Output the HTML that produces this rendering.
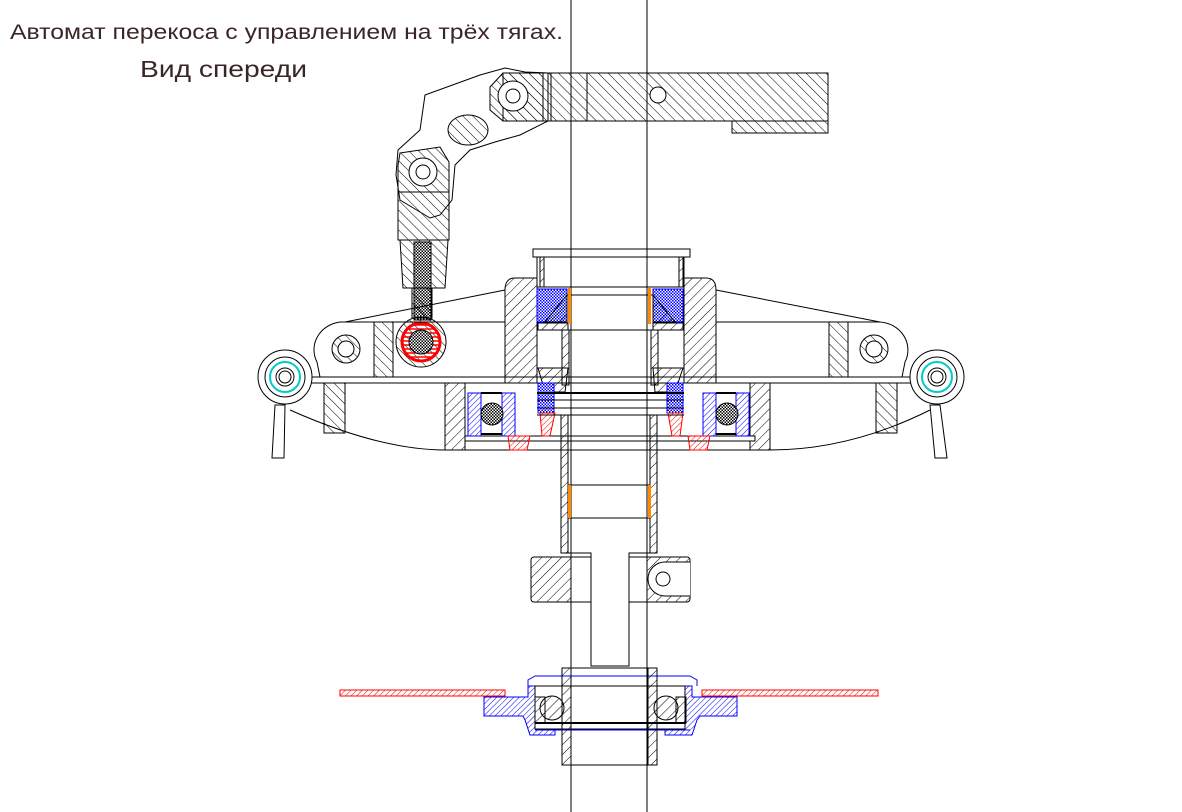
<!DOCTYPE html>
<html><head><meta charset="utf-8"><style>
html,body{margin:0;padding:0;background:#fff;}
svg{display:block}
text{font-family:"Liberation Sans",sans-serif;fill:#3a2626}
</style></head><body>
<svg width="1182" height="812" viewBox="0 0 1182 812" xmlns="http://www.w3.org/2000/svg">
<defs>
<pattern id="h" width="7" height="7" patternUnits="userSpaceOnUse" patternTransform="rotate(45)"><line x1="0" y1="0" x2="0" y2="7" stroke="#000" stroke-width="1"/></pattern>
<pattern id="h2" width="7" height="7" patternUnits="userSpaceOnUse" patternTransform="rotate(-45)"><line x1="0" y1="0" x2="0" y2="7" stroke="#000" stroke-width="1"/></pattern>
<pattern id="hb" width="4" height="4" patternUnits="userSpaceOnUse" patternTransform="rotate(45)"><line x1="0" y1="0" x2="0" y2="4" stroke="#00f" stroke-width="1"/></pattern>
<pattern id="hr" width="4" height="4" patternUnits="userSpaceOnUse" patternTransform="rotate(45)"><line x1="0" y1="0" x2="0" y2="4" stroke="#f00" stroke-width="1"/></pattern>
<pattern id="xb" width="3" height="3" patternUnits="userSpaceOnUse"><rect width="3" height="3" fill="#fff"/><rect width="1.5" height="1.5" fill="#00f"/><rect x="1.5" y="1.5" width="1.5" height="1.5" fill="#00f"/></pattern>
<pattern id="xk" width="3" height="3" patternUnits="userSpaceOnUse"><rect width="3" height="3" fill="#fff"/><rect width="1.5" height="1.5" fill="#000"/><rect x="1.5" y="1.5" width="1.5" height="1.5" fill="#000"/></pattern>
<pattern id="hrh" width="4" height="4" patternUnits="userSpaceOnUse"><line x1="0" y1="1" x2="4" y2="1" stroke="#f00" stroke-width="1.5"/></pattern>
</defs>
<text x="10" y="39" font-size="21" textLength="553" lengthAdjust="spacingAndGlyphs">Автомат перекоса с управлением на трёх тягах.</text>
<text x="140" y="77" font-size="23" textLength="167" lengthAdjust="spacingAndGlyphs">Вид спереди</text>

<g fill="none" stroke="#000" stroke-width="1">
<path d="M398,150 L420,130 L425,95 L480,75 L505,68 L525,72 L548,73 L548,121 L520,135 L495,142 L470,150 L455,165 L452,200 L440,215 L430,218 L400,200 L396,175 Z" fill="#fff"/>
<rect x="503" y="73" width="325" height="48" fill="url(#h2)"/>
<rect x="732" y="121" width="96" height="12" fill="url(#h2)"/>
<line x1="551" y1="73" x2="551" y2="121"/><line x1="587" y1="73" x2="587" y2="121"/>
<polygon points="490,87 503,73 543,73 543,121 503,121 490,110" fill="url(#h2)"/>
<circle cx="513" cy="96" r="15" fill="#fff"/><circle cx="513" cy="96" r="7"/>
<circle cx="658" cy="95" r="8" fill="#fff"/>
<ellipse cx="468" cy="130" rx="20" ry="15" fill="url(#h2)"/>
<polygon points="400,153 440,147 449,162 449,240 398,240 398,165" fill="url(#h2)"/>
<circle cx="423" cy="172" r="14" fill="#fff"/><circle cx="423" cy="172" r="7"/>
<line x1="398" y1="192" x2="449" y2="192"/>
<polygon points="400,240 448,240 445,288 403,288" fill="url(#h2)"/>
<rect x="414" y="242" width="17" height="78" fill="url(#xk)"/>
<rect x="412" y="288" width="20" height="30" fill="url(#h2)"/>
<circle cx="421" cy="342" r="25" fill="url(#h2)"/>
<circle cx="421" cy="342" r="19" fill="url(#hrh)" stroke="#f00" stroke-width="3"/>
<ellipse cx="421" cy="342" rx="12" ry="12" fill="url(#xk)"/>
<path d="M505,290 L345,322 L340,322 A30,28 0 0 0 317,362 L320,377 L505,377" fill="none"/>
<line x1="340" y1="322" x2="505" y2="322"/>
<path d="M716,290 L880,322 A30,28 0 0 1 905,362 L902,377 L716,377" fill="none"/>
<line x1="716" y1="322" x2="880" y2="322"/>
<rect x="374" y="322" width="19" height="55" fill="url(#h2)"/>
<rect x="829" y="322" width="19" height="55" fill="url(#h2)"/>
<circle cx="346" cy="349" r="14" fill="url(#h2)"/><circle cx="346" cy="349" r="8" fill="#fff"/>
<circle cx="874" cy="349" r="14" fill="url(#h2)"/><circle cx="874" cy="349" r="8" fill="#fff"/>
<line x1="303" y1="383" x2="918" y2="383"/><line x1="303" y1="377" x2="918" y2="377"/>
<path d="M290,410 Q380,450 445,450 L770,450 Q850,450 930,410"/>
<rect x="324" y="383" width="21" height="50" fill="url(#h2)"/>
<rect x="876" y="383" width="21" height="50" fill="url(#h2)"/>
<rect x="445" y="383" width="20" height="67" fill="url(#h)"/>
<rect x="750" y="383" width="20" height="67" fill="url(#h)"/>
<line x1="465" y1="450" x2="750" y2="450"/>
<rect x="465" y="436" width="290" height="5" fill="#fff"/>
<rect x="468" y="393" width="13" height="43" fill="url(#hb)" stroke="#00f"/>
<rect x="502" y="393" width="13" height="43" fill="url(#hb)" stroke="#00f"/>
<rect x="736" y="393" width="13" height="43" fill="url(#hb)" stroke="#00f"/>
<rect x="703" y="393" width="13" height="43" fill="url(#hb)" stroke="#00f"/>
<circle cx="492" cy="414" r="11" fill="url(#xk)"/><circle cx="727" cy="414" r="11" fill="url(#xk)"/>
<line x1="481" y1="393" x2="502" y2="393" stroke-width="2"/><line x1="481" y1="434" x2="502" y2="434" stroke-width="2"/>
<line x1="716" y1="393" x2="736" y2="393" stroke-width="2"/><line x1="716" y1="434" x2="736" y2="434" stroke-width="2"/>
<polygon points="508,436 530,436 527,450 510,450" fill="url(#hr)" stroke="#f00"/>
<polygon points="688,436 710,436 707,450 690,450" fill="url(#hr)" stroke="#f00"/>
<path d="M505,290 Q505,278 515,278 L537,278 L537,383 L505,383 Z" fill="url(#h)"/>
<path d="M716,290 Q716,278 706,278 L684,278 L684,383 L716,383 Z" fill="url(#h)"/>
<rect x="537" y="257" width="147" height="30" fill="#fff"/>
<rect x="533" y="249" width="157" height="8" fill="#fff"/>
<rect x="540" y="257" width="4" height="30" fill="url(#h)"/><rect x="679" y="257" width="4" height="30" fill="url(#h)"/>
<rect x="537" y="289" width="30" height="33" fill="url(#xb)" stroke="#00f"/>
<rect x="653" y="289" width="30" height="33" fill="url(#xb)" stroke="#00f"/>
<polygon points="545,322 567,295 567,322" fill="url(#h)"/>
<polygon points="675,322 653,295 653,322" fill="url(#h)"/>
<rect x="538" y="323" width="30" height="7" fill="url(#h)"/><rect x="653" y="323" width="30" height="7" fill="url(#h)"/>
<line x1="567" y1="295" x2="653" y2="295"/><line x1="567" y1="330" x2="653" y2="330"/>
<rect x="562" y="330" width="7" height="55" fill="url(#h)"/><rect x="651" y="330" width="7" height="55" fill="url(#h)"/>
<polygon points="538,368 568,368 565,392 545,392" fill="url(#h)"/>
<polygon points="683,368 653,368 655,392 675,392" fill="url(#h)"/>
<rect x="538" y="383" width="16" height="30" fill="url(#xb)" stroke="#00f"/>
<rect x="667" y="383" width="16" height="30" fill="url(#xb)" stroke="#00f"/>
<polygon points="540,413 555,413 550,436 542,436" fill="url(#hr)" stroke="#f00"/>
<polygon points="668,413 683,413 680,436 672,436" fill="url(#hr)" stroke="#f00"/>
<line x1="537" y1="393" x2="684" y2="393" stroke-width="2"/>
<line x1="537" y1="400" x2="684" y2="400"/><line x1="537" y1="408" x2="684" y2="408"/><line x1="537" y1="415" x2="684" y2="415"/>
<rect x="561" y="415" width="7" height="138" fill="url(#h)"/>
<rect x="650" y="415" width="7" height="138" fill="url(#h)"/>
<line x1="568" y1="485" x2="650" y2="485"/><line x1="568" y1="518" x2="650" y2="518"/>
<rect x="531" y="557" width="159" height="45" rx="3" fill="url(#h)"/>
<rect x="571" y="557" width="76" height="45" fill="#fff"/>
<path d="M690,562 L665,562 A17,17 0 0 0 665,596 L690,596" fill="#fff"/>
<circle cx="663" cy="579" r="7"/>
<polyline points="561,553 591,553 591,666 629,666 629,553 657,553" fill="#fff"/>
<rect x="340" y="690" width="165" height="6" fill="url(#hr)" stroke="#f00"/>
<rect x="702" y="690" width="176" height="6" fill="url(#hr)" stroke="#f00"/>
<path d="M528,686 L528,697 L484,697 L484,716 L523,716 L525,720 L530,735 L555,735 L555,686 Z" fill="url(#hb)" stroke="#00f"/>
<path d="M692,686 L692,697 L737,697 L737,716 L700,716 L697,720 L692,735 L665,735 L665,686 Z" fill="url(#hb)" stroke="#00f"/>
<path d="M528,686 L528,680 L535,676 L690,676 L697,680 L697,686" stroke="#00f" fill="none"/>
<line x1="535" y1="686" x2="690" y2="686" stroke="#00f"/><line x1="535" y1="730" x2="690" y2="730" stroke="#00f"/>
<rect x="535" y="686" width="150" height="43" fill="#fff"/>
<rect x="535" y="697" width="10" height="26" fill="url(#h)"/><rect x="676" y="697" width="10" height="26" fill="url(#h)"/>
<line x1="535" y1="723" x2="686" y2="723" stroke-width="2"/>
<circle cx="552" cy="708" r="12" fill="url(#h)"/><circle cx="666" cy="708" r="12" fill="url(#h)"/>
<rect x="562" y="668" width="9" height="97" fill="url(#h)"/><rect x="648" y="668" width="9" height="97" fill="url(#h)"/>
<line x1="562" y1="668" x2="657" y2="668"/><line x1="562" y1="765" x2="657" y2="765"/>
<circle cx="285" cy="377" r="27" fill="#fff"/><circle cx="285" cy="377" r="20"/>
<circle cx="285" cy="377" r="15" stroke="#0cc" stroke-width="2"/><circle cx="285" cy="377" r="9"/><circle cx="285" cy="377" r="6"/>
<polygon points="275,405 285,405 284,458 272,458" fill="#fff"/>
<circle cx="937" cy="377" r="27" fill="#fff"/><circle cx="937" cy="377" r="20"/>
<circle cx="937" cy="377" r="15" stroke="#0cc" stroke-width="2"/><circle cx="937" cy="377" r="9"/><circle cx="937" cy="377" r="6"/>
<polygon points="930,405 940,405 947,458 935,458" fill="#fff"/>
<line x1="571" y1="0" x2="571" y2="812"/><line x1="647" y1="0" x2="647" y2="812"/>
</g>
<rect x="568" y="288" width="3" height="36" fill="#f80"/>
<rect x="648" y="288" width="3" height="36" fill="#f80"/>
<rect x="568" y="485" width="3" height="33" fill="#f80"/>
<rect x="648" y="485" width="3" height="33" fill="#f80"/>
</svg>
</body></html>
